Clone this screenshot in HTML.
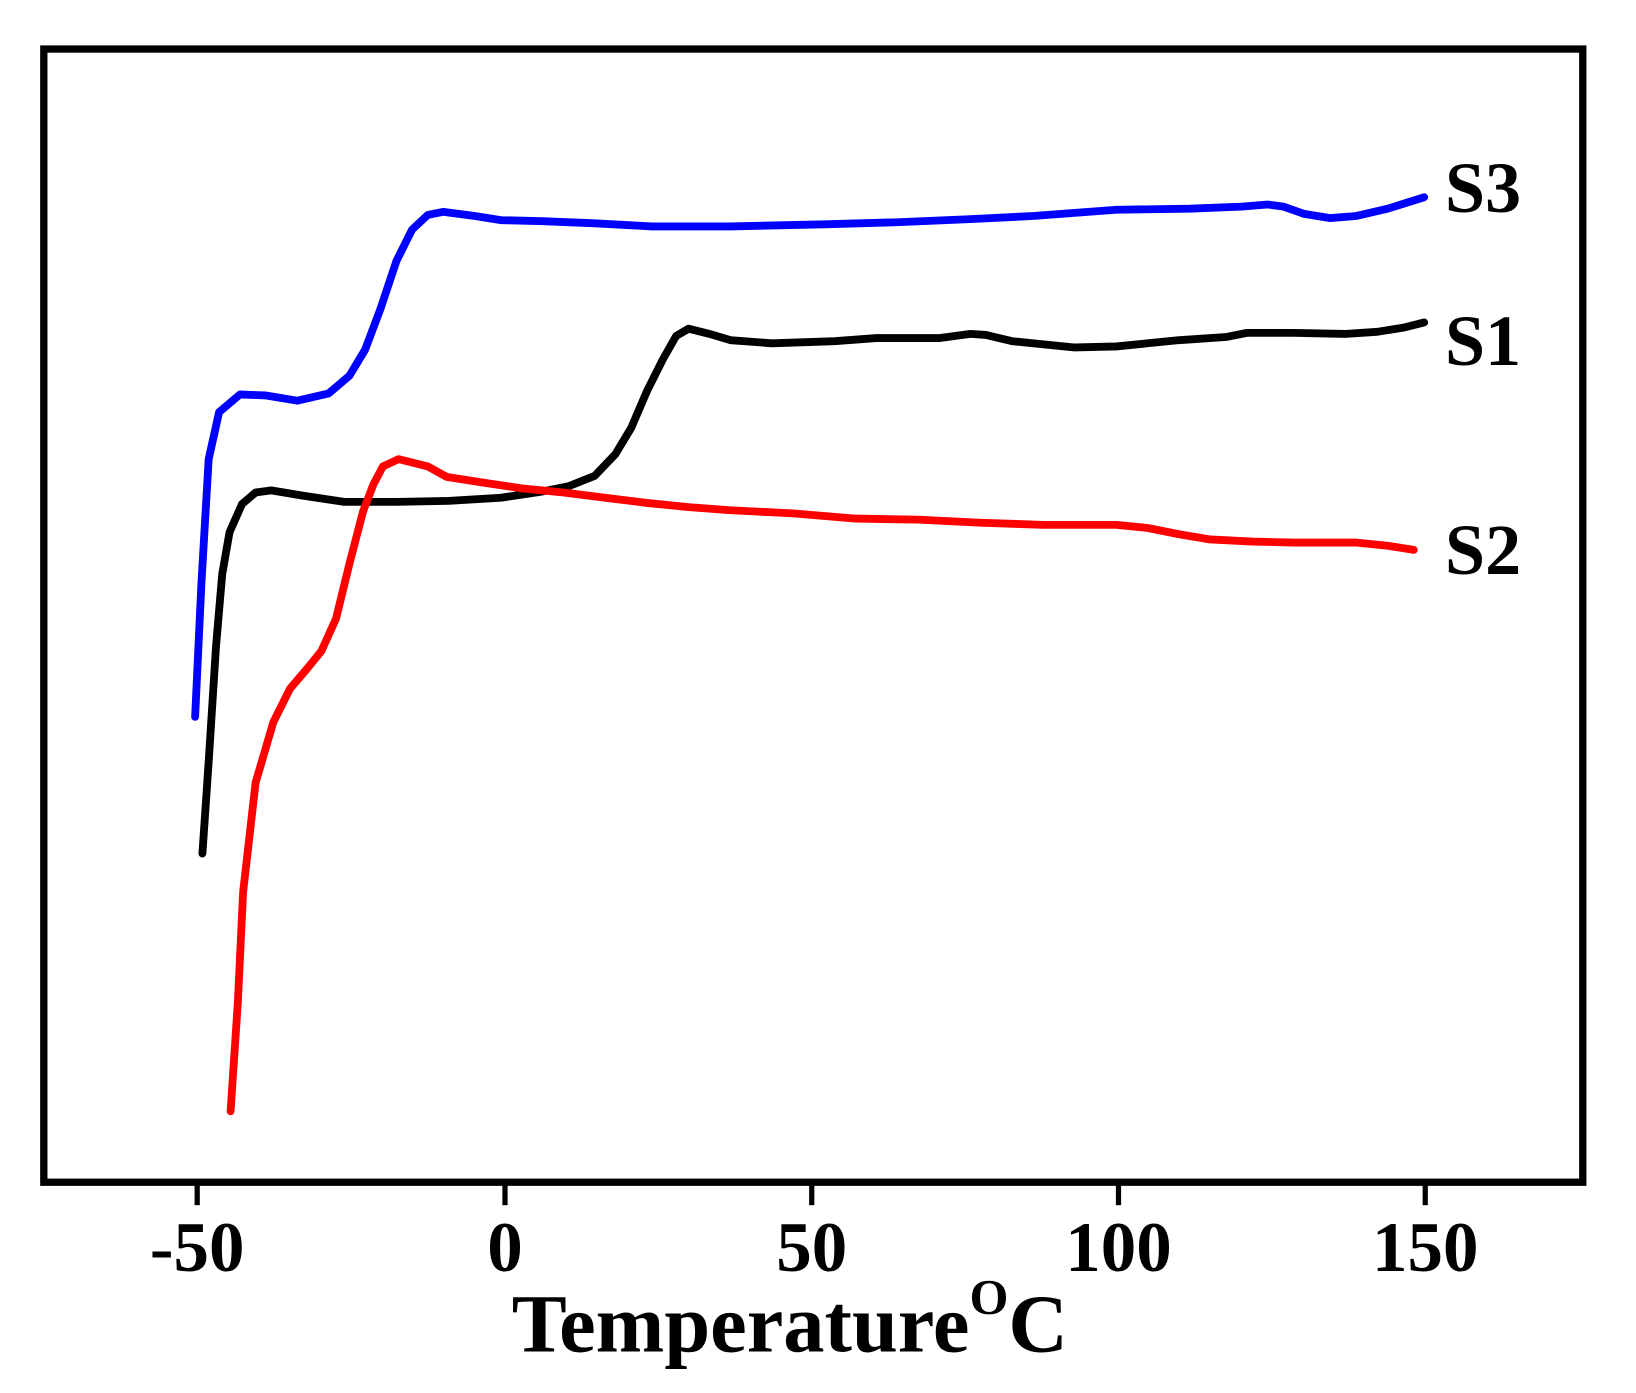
<!DOCTYPE html>
<html><head><style>html,body{margin:0;padding:0;background:#fff}svg{display:block}</style></head>
<body>
<svg width="1636" height="1393" viewBox="0 0 1568 1335" preserveAspectRatio="none" xmlns="http://www.w3.org/2000/svg" font-family="Liberation Serif, serif" font-weight="bold">
<rect x="0" y="0" width="1568" height="1335" fill="#fff"/>
<rect x="42" y="47" width="1475" height="1086" fill="none" stroke="#000" stroke-width="7"/>
<g stroke="#000" stroke-width="5">
<line x1="189" y1="1133" x2="189" y2="1155"/><line x1="484" y1="1133" x2="484" y2="1155"/><line x1="778" y1="1133" x2="778" y2="1155"/><line x1="1072" y1="1133" x2="1072" y2="1155"/><line x1="1366" y1="1133" x2="1366" y2="1155"/>
</g>
<g font-size="68" text-anchor="middle" fill="#000">
<text x="189" y="1218">-50</text><text x="484" y="1218">0</text><text x="778" y="1218">50</text><text x="1072" y="1218">100</text><text x="1366" y="1218">150</text>
</g>
<text x="757" y="1295" font-size="79" text-anchor="middle" fill="#000">Temperature<tspan font-size="48" dy="-36">O</tspan><tspan dy="36">C</tspan></text>
<g font-size="69" fill="#000">
<text x="1385" y="203">S3</text><text x="1385" y="350">S1</text><text x="1385" y="550">S2</text>
</g>
<g fill="none" stroke-width="7.5" stroke-linejoin="round" stroke-linecap="round">
<polyline stroke="#0000ff" points="187,687 193,560 200,440 210,395 230,378 255,379 285,384 315,377 335,360 350,335 365,295 380,250 395,220 410,206 425,203 455,207 480,211 520,212 570,214 625,217 700,217 790,215 860,213 930,210 990,207 1070,201 1140,200 1190,198 1215,196 1230,198 1250,205 1275,209 1300,207 1330,200 1365,189"/>
<polyline stroke="#000" points="194,818 200,730 207,620 213,550 220,510 232,483 245,472 260,470 290,475 330,481 380,481 430,480 480,477 520,471 545,466 570,456 590,435 605,410 620,375 635,345 648,322 660,315 680,320 700,326 740,329 800,327 840,324 900,324 930,320 945,321 970,327 1030,333 1070,332 1100,329 1130,326 1175,323 1195,319 1240,319 1290,320 1320,318 1345,314 1365,309"/>
<polyline stroke="#ff0000" points="221,1065 228,960 233,855 245,750 262,692 278,660 295,640 308,624 322,593 335,540 348,490 358,464 367,447 382,440 410,447 428,457 460,462 500,468 540,472 580,477 620,482 660,486 700,489 760,492 820,497 880,498 940,501 1000,503 1070,503 1100,506 1130,512 1160,517 1200,519 1240,520 1300,520 1330,523 1355,527"/>
</g>
</svg>
</body></html>
